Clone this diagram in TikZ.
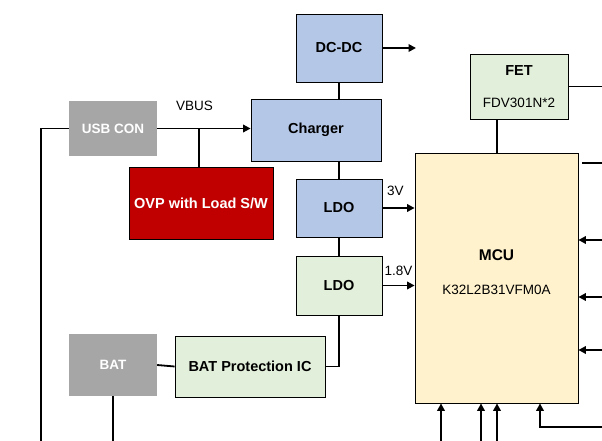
\documentclass[tikz,border=0pt]{standalone}
\usepackage{fontspec}
\setmainfont{Liberation Sans}
\usepackage{tikz}
\usetikzlibrary{arrows.meta,calc}

\definecolor{boxblue}{HTML}{B4C7E7}
\definecolor{boxgreen}{HTML}{E2EFDA}
\definecolor{boxred}{HTML}{C00000}
\definecolor{boxgray}{HTML}{A6A6A6}
\definecolor{boxyellow}{HTML}{FFF2CC}

\begin{document}
\begin{tikzpicture}[
        x=1pt, y=-1pt,
        box/.style={draw, line width=0.8pt, align=center, inner sep=0pt, font=\fontsize{14.5}{17}\selectfont\bfseries},
        bluebox/.style={box, fill=boxblue},
        greenbox/.style={box, fill=boxgreen},
        graybox/.style={fill=boxgray, text=white, align=center, inner sep=0pt, font=\fontsize{13.5}{16}\selectfont\bfseries},
        wire/.style={line width=1.8pt},
        arrow/.style={wire, -{Triangle[length=7.5pt, width=7.5pt]}},
        lbl/.style={font=\fontsize{13.5}{16}\selectfont, inner sep=0pt}
      ]
        \useasboundingbox (0,0) rectangle (602,441);
        % power path
        \node[graybox, minimum width=88pt, minimum height=55pt] (usb) at (113,128.5) {USB CON};
        \node[bluebox, minimum width=130pt, minimum height=62pt] (charger) at (316,130) {Charger};
        \node[bluebox, minimum width=86pt, minimum height=68pt] (dcdc) at (339,48) {DC-DC};
        \node[box, fill=boxred, text=white, minimum width=144pt, minimum height=72pt] (ovp) at (201,203) {OVP with Load S/W};
        \node[bluebox, minimum width=86pt, minimum height=58pt] (ldoA) at (339,208) {LDO};
        \node[greenbox, minimum width=86pt, minimum height=59pt] (ldoB) at (339,285.5) {LDO};
        \node[graybox, minimum width=88pt, minimum height=62pt] (bat) at (113,365) {BAT};
        \node[greenbox, minimum width=150pt, minimum height=61pt] (batp) at (250,366.5) {BAT Protection IC};
        % controller
        \node[greenbox, minimum width=98pt, minimum height=65pt] (fet) at (519,86.5)
          {FET\\[15pt]{\fontsize{13.5}{16}\selectfont\mdseries FDV301N*2}};
        \node[box, fill=boxyellow, minimum width=163pt, minimum height=250pt] (mcu) at (496.5,278) {};
        \node[lbl, align=center] (mcutext) at (496.5,272)
          {{\fontsize{15.5}{18}\selectfont\bfseries MCU}\\[18pt]K32L2B31VFM0A};

        \coordinate (usbout) at (41,441);
        \coordinate (batout) at (113,441);
        \coordinate (dcdcout) at (416,48);

        \draw[wire] (usb.west) -| (usbout);
        \draw[arrow] (usb.east) -- (usb.east -| charger.west)
          node[lbl, pos=0.4, above=17pt] (vbus) {VBUS};
        \draw[wire] (ovp.north -| 199,0) -- (199,129);
        \draw[wire] (dcdc.south) -- (dcdc.south |- charger.north);
        \draw[arrow] (dcdc.east) -- (dcdcout);
        \draw[wire] (ldoA.north |- charger.south) -- (ldoA.north);
        \draw[arrow] (ldoA.east) -- (ldoA.east -| mcu.west)
          node[lbl, pos=0.4, above=11pt] (v3) {3V};
        \draw[wire] (ldoA.south) -- (ldoB.north);
        \draw[arrow] (ldoB.east) -- (ldoB.east -| mcu.west)
          node[lbl, pos=0.5, above=9pt] (v18) {1.8V};
        \draw[wire] (ldoB.south) |- (batp.east);
        \draw[wire] (bat.east) -- (batp.west);
        \draw[wire] (bat.south) -- (batout);

        % MCU connections leaving the frame
        \draw[wire] (497,0 |- fet.south) -- (497,0 |- mcu.north);
        \draw[wire] (fet.east) -- (602,0 |- fet.east);
        \draw[wire] (582,163) -- (602,163);
        \foreach \yy in {240,297,350}
          \draw[arrow] (602,\yy) -- (mcu.east |- 0,\yy);
        \foreach \xx in {441,481,497}
          \draw[arrow] (\xx,441) -- (\xx,0 |- mcu.south);
        \draw[arrow] (602,427) -| (540,0 |- mcu.south);
      \end{tikzpicture}
\end{document}
